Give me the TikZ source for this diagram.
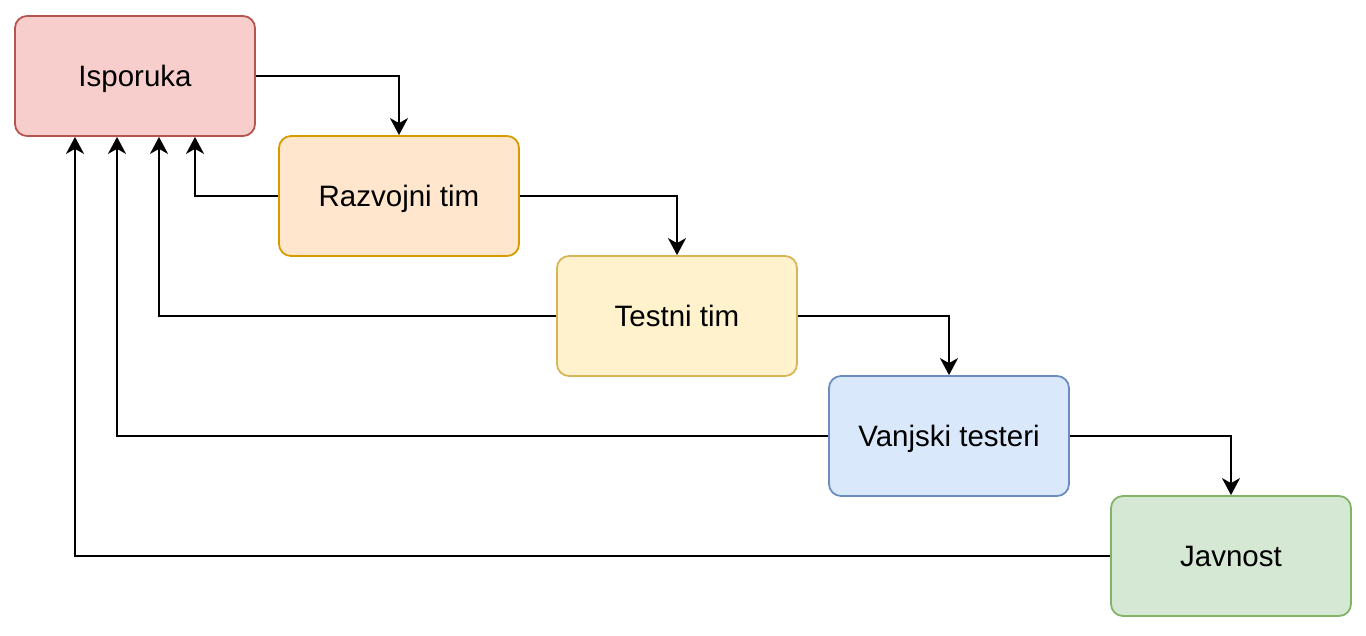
\documentclass[tikz,border=0pt]{standalone}
\usepackage{fontspec}
\setmainfont{Liberation Sans}
\usetikzlibrary{arrows.meta}
\definecolor{redF}{HTML}{F8CECC}\definecolor{redD}{HTML}{B85450}
\definecolor{orgF}{HTML}{FFE6CC}\definecolor{orgD}{HTML}{D79B00}
\definecolor{yelF}{HTML}{FFF2CC}\definecolor{yelD}{HTML}{D6B656}
\definecolor{bluF}{HTML}{DAE8FC}\definecolor{bluD}{HTML}{6C8EBF}
\definecolor{grnF}{HTML}{D5E8D4}\definecolor{grnD}{HTML}{82B366}
\tikzset{
  box/.style={draw, line width=1.8pt, rounded corners=12pt, minimum width=240pt, minimum height=120pt, inner sep=0pt, text height=21pt, text depth=0pt, font=\fontsize{29.5}{34}\selectfont, text=black},
  conn/.style={draw=black, line width=2pt, -{Stealth[length=17pt,width=18pt,inset=5pt]}}
}
\begin{document}
\begin{tikzpicture}[x=1pt,y=-1pt]
\useasboundingbox (0,0) rectangle (1366,636);
\node[box, fill=redF, draw=redD] (iso) at (135,76) {Isporuka};
\node[box, fill=orgF, draw=orgD] (raz) at (399,196) {Razvojni tim};
\node[box, fill=yelF, draw=yelD] (tes) at (677,316) {Testni tim};
\node[box, fill=bluF, draw=bluD] (van) at (949,436) {Vanjski testeri};
\node[box, fill=grnF, draw=grnD] (jav) at (1231,556) {Javnost};
% forward
\draw[conn] (iso.east) -| (raz.north);
\draw[conn] (raz.east) -| (tes.north);
\draw[conn] (tes.east) -| (van.north);
\draw[conn] (van.east) -| (jav.north);
% feedback
\draw[conn] (raz.west) -| (iso.south -| 195,0);
\draw[conn] (tes.west) -| (iso.south -| 159,0);
\draw[conn] (van.west) -| (iso.south -| 117,0);
\draw[conn] (jav.west) -| (iso.south -| 75,0);
\end{tikzpicture}
\end{document}
